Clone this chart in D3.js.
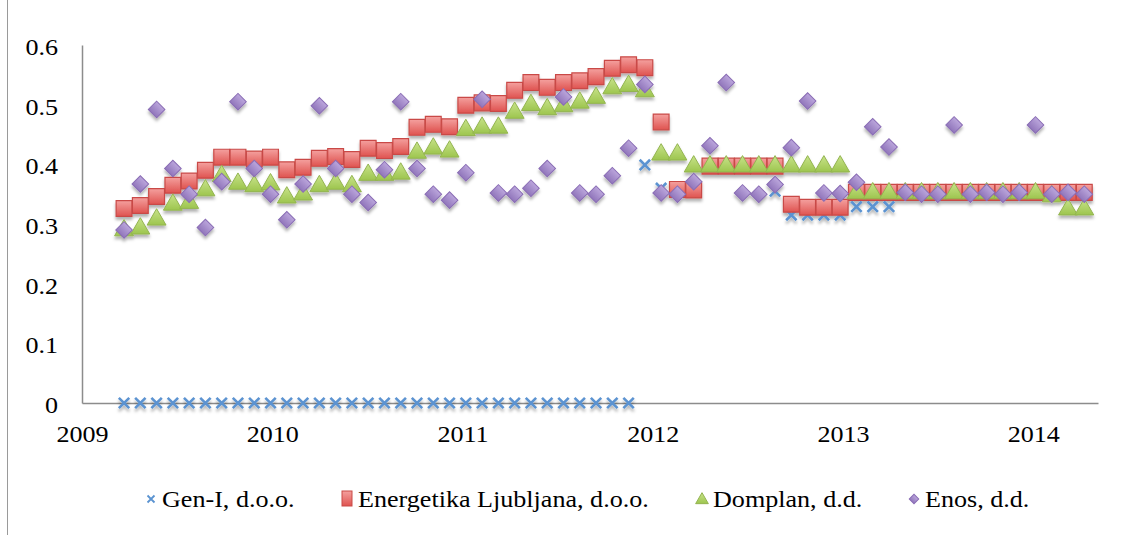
<!DOCTYPE html>
<html>
<head>
<meta charset="utf-8">
<script src="https://d3js.org/d3.v7.min.js"></script>
</head>
<body style="margin:0">
<script>
const months = [
  "2009-04","2009-05","2009-06","2009-07","2009-08","2009-09","2009-10","2009-11","2009-12",
  "2010-01","2010-02","2010-03","2010-04","2010-05","2010-06","2010-07","2010-08","2010-09","2010-10","2010-11","2010-12",
  "2011-01","2011-02","2011-03","2011-04","2011-05","2011-06","2011-07","2011-08","2011-09","2011-10","2011-11","2011-12",
  "2012-01","2012-02","2012-03","2012-04","2012-05","2012-06","2012-07","2012-08","2012-09","2012-10","2012-11","2012-12",
  "2013-01","2013-02","2013-03","2013-04","2013-05","2013-06","2013-07","2013-08","2013-09","2013-10","2013-11","2013-12",
  "2014-01","2014-02","2014-03"
];

const genI = [
  0,0,0,0,0,0,0,0,0,0,0,0,0,0,0,0,0,0,0,0,0,0,0,0,0,0,0,0,0,0,0,0,
  0.399,0.36,0.355,0.355,0.397,0.397,0.397,0.397,0.355,0.315,0.315,0.315,0.315,
  0.329,0.329,0.329,0.35,0.35,0.35,0.35,0.35,0.35,0.35,0.35,0.35,0.35,0.35,0.35
];
const energetika = [
  0.326,0.331,0.346,0.365,0.372,0.390,0.412,0.412,0.409,0.412,0.391,0.395,0.410,0.413,0.408,0.427,
  0.423,0.430,0.462,0.467,0.463,0.499,0.503,0.502,0.524,0.537,0.529,0.537,0.540,0.547,0.561,0.567,
  0.562,0.471,0.358,0.357,0.397,0.397,0.397,0.397,0.397,0.333,0.328,0.328,0.328,
  0.353,0.353,0.353,0.353,0.353,0.353,0.353,0.353,0.353,0.353,0.353,0.353,0.353,0.353,0.353
];
const domplan = [
  0.291,0.294,0.309,0.334,0.337,0.358,0.382,0.369,0.365,0.368,0.346,0.351,0.365,0.369,0.365,0.384,
  0.384,0.386,0.421,0.428,0.423,0.459,0.463,0.463,0.488,0.501,0.494,0.499,0.505,0.513,0.529,0.533,
  0.524,0.418,0.418,0.398,0.398,0.398,0.398,0.398,0.398,0.398,0.398,0.398,0.398,
  0.353,0.353,0.353,0.353,0.353,0.353,0.353,0.353,0.353,0.353,0.353,0.353,0.348,0.326,0.326
];
const enos = [
  0.290,0.367,0.492,0.393,0.350,0.294,0.371,0.505,0.393,0.350,0.307,0.367,0.498,0.393,0.350,0.336,
  0.391,0.505,0.393,0.350,0.340,0.386,0.509,0.352,0.350,0.360,0.393,0.513,0.352,0.350,0.381,0.427,
  0.534,0.352,0.350,0.371,0.431,0.537,0.352,0.350,0.366,0.428,0.506,0.352,0.351,
  0.370,0.463,0.429,0.353,0.350,0.350,0.466,0.350,0.353,0.350,0.353,0.466,0.350,0.353,0.350
];

const seriesNames = ["Gen-I, d.o.o.", "Energetika Ljubljana, d.o.o.", "Domplan, d.d.", "Enos, d.d."];
const yearTicks = [2009, 2010, 2011, 2012, 2013, 2014];
const yTicks = [0, 0.1, 0.2, 0.3, 0.4, 0.5, 0.6];

const W = 1145, H = 535;
const margin = { top: 45, left: 82, right: 47, bottom: 132 };
const width = W - margin.left - margin.right;
const height = H - margin.top - margin.bottom;
const fontSize = 22.5;
const stretch = 1.16; // text in the reference is a bit wider than the font

const svg = d3.select("body").append("svg")
    .attr("width", W)
    .attr("height", H)
    .attr("font-family", "Liberation Serif");

const defs = svg.append("defs");
const shadow = defs.append("filter").attr("id", "shadow")
    .attr("x", "-50%").attr("y", "-50%").attr("width", "200%").attr("height", "220%");
shadow.append("feDropShadow")
    .attr("dx", 0).attr("dy", 3).attr("stdDeviation", 1.8)
    .attr("flood-color", "#000").attr("flood-opacity", 0.3);

function grad(id, c1, c2) {
    const gr = defs.append("linearGradient").attr("id", id)
        .attr("x1", 0).attr("y1", 0).attr("x2", 0).attr("y2", 1);
    gr.append("stop").attr("offset", "0%").attr("stop-color", c1);
    gr.append("stop").attr("offset", "100%").attr("stop-color", c2);
}
grad("gRed", "#f4a09e", "#df5350");
grad("gGreen", "#c8e38a", "#9dc54e");
grad("gPurple", "#bba6dc", "#9176bb");

// outer chart border (left side visible)
svg.append("line")
    .attr("x1", 7.5).attr("x2", 7.5).attr("y1", 0).attr("y2", H)
    .attr("stroke", "#9a9a9a").attr("stroke-width", 1);

const g = svg.append("g")
    .attr("transform", `translate(${margin.left},${margin.top})`);

const xYear = d3.scaleLinear().domain([2009, 2014.34]).range([0, width]);
const x = d3.scalePoint().domain(months).range([xYear(2009.221), xYear(2014.268)]);
const y = d3.scaleLinear().domain([0, 0.6]).range([height, 0]);

const xAxis = d3.axisBottom(xYear).tickValues(yearTicks).tickFormat(d3.format("d")).tickSize(0).tickPadding(23);
const yAxis = d3.axisLeft(y).tickValues(yTicks).tickFormat(d => d === 0 ? "0" : d3.format(".1f")(d)).tickSize(0).tickPadding(24);

const gx = g.append("g").attr("transform", `translate(0,${height})`).call(xAxis);
const gy = g.append("g").call(yAxis);
[gx, gy].forEach(a => {
    a.attr("font-family", "Liberation Serif").attr("font-size", fontSize);
    a.select(".domain").attr("stroke", "#8c8c8c").attr("stroke-width", 1.5);
    a.selectAll("text").attr("fill", "#000");
});
gx.selectAll("text").attr("transform", `scale(${stretch},1)`);
gy.selectAll("text")
    .attr("dy", "0.42em")
    .attr("x", -24 / stretch)
    .attr("transform", `scale(${stretch},1)`);

const sym = {
    square: d3.symbol().type(d3.symbolSquare).size(250),
    triangle: d3.symbol().type(d3.symbolTriangle).size(155),
    diamond: d3.symbol().type(d3.symbolSquare).size(138)
};

const marks = g.append("g").attr("filter", "url(#shadow)");

function crossPath(s) {
    return `M${-s},${-s}L${s},${s}M${-s},${s}L${s},${-s}`;
}

// Gen-I crosses
marks.append("g").selectAll("path")
    .data(genI)
    .join("path")
    .attr("transform", (d, i) => `translate(${x(months[i])},${y(d)})`)
    .attr("d", crossPath(5.2))
    .attr("stroke", "#5b93d1").attr("stroke-width", 2.6).attr("fill", "none");

// Energetika squares
marks.append("g").selectAll("path")
    .data(energetika)
    .join("path")
    .attr("transform", (d, i) => `translate(${x(months[i])},${y(d)})`)
    .attr("d", sym.square())
    .attr("fill", "url(#gRed)").attr("stroke", "#c94a47").attr("stroke-width", 1.2);

// Domplan triangles
marks.append("g").selectAll("path")
    .data(domplan)
    .join("path")
    .attr("transform", (d, i) => `translate(${x(months[i])},${y(d) + 1})`)
    .attr("d", sym.triangle())
    .attr("fill", "url(#gGreen)").attr("stroke", "#93b450").attr("stroke-width", 1);

// Enos diamonds
marks.append("g").selectAll("path")
    .data(enos)
    .join("path")
    .attr("transform", (d, i) => `translate(${x(months[i])},${y(d)}) rotate(45)`)
    .attr("d", sym.diamond())
    .attr("fill", "url(#gPurple)").attr("stroke", "#8a6db5").attr("stroke-width", 1);

// legend
const legendX = [151, 347, 702, 914];
const legendY = 499;
const legend = svg.append("g");
seriesNames.forEach((name, i) => {
    const lg = legend.append("g").attr("transform", `translate(${legendX[i]},${legendY})`);
    if (i === 0) {
        lg.append("path").attr("d", crossPath(3.5))
            .attr("stroke", "#5b93d1").attr("stroke-width", 1.8).attr("fill", "none");
    } else if (i === 1) {
        lg.append("rect").attr("x", -5).attr("y", -8).attr("width", 10).attr("height", 15)
            .attr("fill", "url(#gRed)").attr("stroke", "#c94a47");
    } else if (i === 2) {
        lg.append("path").attr("d", d3.symbol().type(d3.symbolTriangle).size(70)())
            .attr("transform", "translate(0,1)")
            .attr("fill", "url(#gGreen)").attr("stroke", "#93b450");
    } else {
        lg.append("path").attr("d", d3.symbol().type(d3.symbolSquare).size(45)())
            .attr("transform", "rotate(45)")
            .attr("fill", "url(#gPurple)").attr("stroke", "#8a6db5");
    }
    lg.append("text")
        .attr("x", 11 / stretch)
        .attr("y", 8)
        .attr("transform", `scale(${stretch},1)`)
        .attr("font-size", fontSize)
        .attr("fill", "#000")
        .text(name);
});
</script>
</body>
</html>
